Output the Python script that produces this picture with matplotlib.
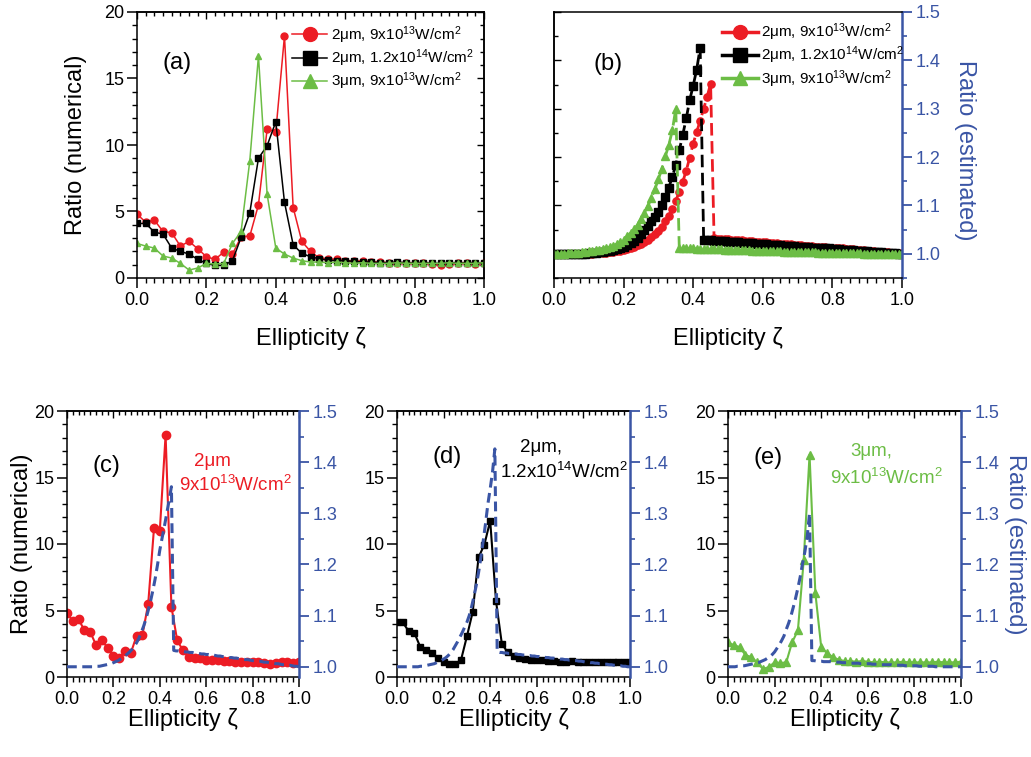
import numpy as np
import matplotlib
matplotlib.use('Agg')
import matplotlib.pyplot as plt
from matplotlib.ticker import MultipleLocator, FormatStrFormatter
from matplotlib.lines import Line2D

plt.rcParams['font.family'] = 'Liberation Sans'
plt.rcParams['mathtext.fontset'] = 'custom'
plt.rcParams['mathtext.rm'] = 'Liberation Sans'
plt.rcParams['mathtext.default'] = 'regular'

RED = '#ec1c24'
BLACK = '#000000'
GREEN = '#6cbd45'
BLUE = '#3a55a5'

TICK_FS = 13
LABEL_FS = 17

# numerical ratio, ellipticity 0..1 in steps of 0.025
zeta = np.linspace(0, 1, 41)
ratio_2um_9e13 = [4.8, 4.2, 4.35, 3.5, 3.4, 2.4, 2.75, 2.2, 1.6, 1.4,
                  1.95, 1.8, 3.1, 3.15, 5.5, 11.2, 11.0, 18.2, 5.3, 2.75,
                  2.0, 1.5, 1.45, 1.4, 1.3, 1.3, 1.25, 1.2, 1.2, 1.15,
                  1.15, 1.1, 1.1, 1.1, 1.05, 0.95, 1.05, 1.1, 1.1, 1.05, 1.1]
ratio_2um_12e14 = [4.1, 4.1, 3.45, 3.3, 2.25, 2.0, 1.8, 1.4, 1.1, 0.95,
                   0.95, 1.3, 3.05, 4.9, 9.0, 9.95, 11.75, 5.7, 2.5, 1.85,
                   1.6, 1.45, 1.35, 1.3, 1.3, 1.25, 1.2, 1.2, 1.15, 1.15,
                   1.2, 1.15, 1.1, 1.15, 1.1, 1.1, 1.15, 1.15, 1.1, 1.15, 1.1]
ratio_3um_9e13 = [2.6, 2.4, 2.25, 1.65, 1.5, 1.1, 0.6, 0.75, 1.1, 1.05,
                  1.1, 2.6, 3.5, 8.8, 16.7, 6.3, 2.25, 1.8, 1.5, 1.3,
                  1.2, 1.2, 1.15, 1.2, 1.15, 1.1, 1.15, 1.1, 1.1, 1.1,
                  1.15, 1.1, 1.1, 1.1, 1.1, 1.1, 1.15, 1.1, 1.1, 1.1, 1.15]

# estimated ratio, ellipticity 0..1 in steps of 0.01
zeta_fine = np.linspace(0, 1, 101)
est_2um_9e13 = [1.000, 1.000, 1.000, 1.000, 1.000, 1.000, 1.000, 1.000, 1.000, 1.000,
                1.000, 1.000, 1.001, 1.001, 1.001, 1.002, 1.003, 1.004, 1.005, 1.006,
                1.008, 1.010, 1.012, 1.015, 1.018, 1.021, 1.025, 1.029, 1.034, 1.040,
                1.047, 1.056, 1.067, 1.079, 1.093, 1.110, 1.128, 1.149, 1.172, 1.199,
                1.228, 1.252, 1.275, 1.300, 1.325, 1.352, 1.032, 1.031, 1.031, 1.030,
                1.030, 1.029, 1.029, 1.028, 1.028, 1.027, 1.027, 1.026, 1.025, 1.025,
                1.024, 1.024, 1.023, 1.023, 1.022, 1.021, 1.021, 1.020, 1.020, 1.019,
                1.018, 1.018, 1.017, 1.017, 1.016, 1.015, 1.015, 1.014, 1.014, 1.013,
                1.012, 1.012, 1.011, 1.011, 1.010, 1.009, 1.009, 1.008, 1.007, 1.007,
                1.006, 1.006, 1.005, 1.004, 1.004, 1.003, 1.003, 1.002, 1.001, 1.001,
                1.000]
est_2um_12e14 = [1.000, 1.000, 1.000, 1.000, 1.000, 1.000, 1.000, 1.000, 1.000, 1.000,
                 1.001, 1.001, 1.002, 1.003, 1.004, 1.005, 1.006, 1.008, 1.010, 1.012,
                 1.015, 1.018, 1.022, 1.027, 1.033, 1.041, 1.049, 1.058, 1.067, 1.077,
                 1.087, 1.100, 1.117, 1.137, 1.159, 1.184, 1.214, 1.246, 1.280, 1.318,
                 1.348, 1.381, 1.426, 1.029, 1.028, 1.028, 1.027, 1.027, 1.026, 1.026,
                 1.025, 1.025, 1.024, 1.024, 1.023, 1.023, 1.022, 1.022, 1.021, 1.021,
                 1.020, 1.020, 1.019, 1.019, 1.018, 1.018, 1.017, 1.017, 1.016, 1.016,
                 1.015, 1.015, 1.014, 1.014, 1.013, 1.013, 1.012, 1.012, 1.011, 1.011,
                 1.010, 1.009, 1.009, 1.008, 1.008, 1.007, 1.007, 1.006, 1.006, 1.005,
                 1.005, 1.004, 1.004, 1.003, 1.003, 1.002, 1.002, 1.001, 1.001, 1.000,
                 1.000]
est_3um_9e13 = [1.000, 1.000, 1.000, 1.000, 1.001, 1.001, 1.002, 1.002, 1.003, 1.004,
                1.005, 1.006, 1.007, 1.008, 1.010, 1.012, 1.014, 1.017, 1.020, 1.024,
                1.029, 1.036, 1.043, 1.051, 1.060, 1.073, 1.085, 1.099, 1.116, 1.134,
                1.154, 1.176, 1.202, 1.225, 1.255, 1.300, 1.012, 1.012, 1.011, 1.011,
                1.011, 1.010, 1.010, 1.010, 1.010, 1.009, 1.009, 1.009, 1.009, 1.008,
                1.008, 1.008, 1.008, 1.007, 1.007, 1.007, 1.007, 1.006, 1.006, 1.006,
                1.006, 1.006, 1.005, 1.005, 1.005, 1.005, 1.004, 1.004, 1.004, 1.004,
                1.004, 1.003, 1.003, 1.003, 1.003, 1.003, 1.002, 1.002, 1.002, 1.002,
                1.002, 1.002, 1.001, 1.001, 1.001, 1.001, 1.001, 1.001, 1.001, 1.000,
                1.000, 1.000, 1.000, 1.000, 1.000, 1.000, 1.000, 1.000, 1.000, 1.000,
                1.000]

labels = ['2\u03bcm, 9x10$^{13}$W/cm$^2$',
          '2\u03bcm, 1.2x10$^{14}$W/cm$^2$',
          '3\u03bcm, 9x10$^{13}$W/cm$^2$']
numerical = [ratio_2um_9e13, ratio_2um_12e14, ratio_3um_9e13]
estimated = [est_2um_9e13, est_2um_12e14, est_3um_9e13]
colors = [RED, BLACK, GREEN]
markers = ['o', 's', '^']

W, H = 1031, 757
fig = plt.figure(figsize=(W / 100, H / 100), dpi=100)


def add_panel(left, right, top, bottom):
    return fig.add_axes([left / W, 1 - bottom / H, (right - left) / W, (bottom - top) / H])


def setup_x(ax, label_y, top_ticks=True):
    ax.set_xlim(0, 1)
    ax.xaxis.set_major_locator(MultipleLocator(0.2))
    ax.xaxis.set_minor_locator(MultipleLocator(0.025))
    ax.xaxis.set_major_formatter(FormatStrFormatter('%.1f'))
    ax.tick_params(axis='x', which='both', direction='out', top=False,
                   labelsize=TICK_FS, pad=3)
    ax.tick_params(axis='x', which='major', length=7, width=1.1)
    ax.tick_params(axis='x', which='minor', length=3.5, width=1.0)
    ax.set_xlabel('Ellipticity \u03b6', fontsize=LABEL_FS, va='top')
    ax.xaxis.set_label_coords(0.5, label_y)
    for s in ax.spines.values():
        s.set_linewidth(1.1)
    if top_ticks:
        sec = ax.secondary_xaxis('top')
        sec.xaxis.set_major_locator(MultipleLocator(0.2))
        sec.xaxis.set_minor_locator(MultipleLocator(0.025))
        sec.tick_params(which='both', direction='in', labeltop=False, width=1.0)
        sec.tick_params(which='major', length=5)
        sec.tick_params(which='minor', length=3)
        sec.spines['top'].set_linewidth(1.1)


def setup_num_y(ax, mirror=False):
    ax.set_ylim(0, 20)
    ax.yaxis.set_major_locator(MultipleLocator(5))
    ax.yaxis.set_minor_locator(MultipleLocator(1))
    ax.tick_params(axis='y', which='both', direction='out', right=False,
                   labelsize=TICK_FS, pad=2)
    ax.tick_params(axis='y', which='major', length=7, width=1.1)
    ax.tick_params(axis='y', which='minor', length=3.5, width=1.0)
    if mirror:
        sec = ax.secondary_yaxis('right')
        sec.yaxis.set_major_locator(MultipleLocator(5))
        sec.yaxis.set_minor_locator(MultipleLocator(1))
        sec.tick_params(which='both', direction='in', labelright=False, width=1.0)
        sec.tick_params(which='major', length=5)
        sec.tick_params(which='minor', length=3)
        sec.spines['right'].set_linewidth(1.1)


def setup_est_y(ax, low):
    ax.set_ylim(low, 1.5)
    ax.yaxis.tick_right()
    ax.yaxis.set_major_locator(MultipleLocator(0.1))
    ax.yaxis.set_minor_locator(MultipleLocator(0.05))
    ax.yaxis.set_major_formatter(FormatStrFormatter('%.1f'))
    ax.tick_params(axis='y', which='both', direction='out', left=False, right=True,
                   colors=BLUE, labelsize=TICK_FS, pad=3)
    ax.tick_params(axis='y', which='major', length=7, width=1.3)
    ax.tick_params(axis='y', which='minor', length=3.5, width=1.2)
    ax.spines['right'].set_color(BLUE)
    ax.spines['right'].set_linewidth(1.8)


legend_style = dict(loc='upper right', frameon=False, fontsize=11,
                    handlelength=2.3, handletextpad=0.2, labelspacing=0.12,
                    borderaxespad=0, borderpad=0)

# (a) numerical ratio for all three cases
ax_a = add_panel(137, 484, 12, 278)
for y, c, m, lab in zip(numerical, colors, markers, labels):
    ax_a.plot(zeta, y, color=c, marker=m, ms=5, lw=1.1, label=lab)
setup_x(ax_a, -0.185)
setup_num_y(ax_a, mirror=True)
ax_a.set_ylabel('Ratio (numerical)', fontsize=LABEL_FS, va='center')
ax_a.yaxis.set_label_coords(-0.176, 0.5)
ax_a.legend(bbox_to_anchor=(0.97, 0.955), markerscale=2, **legend_style)
ax_a.text(0.115, 0.808, '(a)', transform=ax_a.transAxes, fontsize=17,
          ha='center', va='center')

# (b) estimated ratio for all three cases
ax_b = add_panel(554, 902, 12, 278)
for y, c, m in zip(estimated, colors, markers):
    ax_b.plot(zeta_fine, y, color=c, marker=m, ms=5.2, lw=2, linestyle='--',
              dashes=(4.5, 2))
setup_x(ax_b, -0.185, top_ticks=False)
setup_est_y(ax_b, 0.95)
sec_b = ax_b.secondary_yaxis('left')
sec_b.yaxis.set_major_locator(MultipleLocator(0.1))
sec_b.yaxis.set_minor_locator(MultipleLocator(0.05))
sec_b.tick_params(which='both', direction='in', labelleft=False, width=1.0)
sec_b.tick_params(which='major', length=5)
sec_b.tick_params(which='minor', length=3)
sec_b.spines['left'].set_linewidth(1.1)
ax_b.set_ylabel('Ratio (estimated)', fontsize=LABEL_FS, color=BLUE,
                rotation=270, va='center')
ax_b.yaxis.set_label_position('right')
ax_b.yaxis.set_label_coords(1.213, 0.48)
handles_b = [Line2D([], [], color=c, marker=m, ms=10, lw=2.5)
             for c, m in zip(colors, markers)]
ax_b.legend(handles_b, labels, bbox_to_anchor=(1.005, 0.965), **legend_style)
ax_b.text(0.155, 0.805, '(b)', transform=ax_b.transAxes, fontsize=17,
          ha='center', va='center')

# (c)-(e) numerical vs estimated, one case per panel
bottom_panels = [(67, 299), (397, 630), (728, 961)]
panel_tags = ['(c)', '(d)', '(e)']
tag_pos = [(0.172, 0.793), (0.215, 0.827), (0.172, 0.823)]
case_text = [('2\u03bcm', '9x10$^{13}$W/cm$^2$'),
             ('2\u03bcm,', '1.2x10$^{14}$W/cm$^2$'),
             ('3\u03bcm,', '9x10$^{13}$W/cm$^2$')]
case_pos = [((0.629, 0.812), (0.724, 0.722)),
            ((0.618, 0.861), (0.717, 0.771)),
            ((0.614, 0.846), (0.678, 0.748))]
marker_sizes = [6, 5, 6]

for i, (left, right) in enumerate(bottom_panels):
    ax = add_panel(left, right, 411, 677)
    c = colors[i]
    ax.plot(zeta, numerical[i], color=c, marker=markers[i], ms=marker_sizes[i], lw=1.5)
    setup_x(ax, -0.118)
    setup_num_y(ax)
    ax.spines['right'].set_visible(False)
    tw = ax.twinx()
    tw.plot(zeta_fine, estimated[i], color=BLUE, lw=2.2, linestyle='--',
            dashes=(3.2, 1.8))
    setup_est_y(tw, 0.98)
    for side in ('left', 'top', 'bottom'):
        tw.spines[side].set_visible(False)
    ax.text(*tag_pos[i], panel_tags[i], transform=ax.transAxes, fontsize=17,
            ha='center', va='center')
    txt_color = BLACK if i == 1 else c
    for (tx, ty), s in zip(case_pos[i], case_text[i]):
        ax.text(tx, ty, s, transform=ax.transAxes, fontsize=13.5, color=txt_color,
                ha='center', va='center')
    if i == 0:
        ax.set_ylabel('Ratio (numerical)', fontsize=LABEL_FS, va='center')
        ax.yaxis.set_label_coords(-0.194, 0.5)
    if i == 2:
        tw.set_ylabel('Ratio (estimated)', fontsize=LABEL_FS, color=BLUE,
                      rotation=270, va='center')
        tw.yaxis.set_label_coords(1.232, 0.5)

fig.savefig('out.png', dpi=100)
